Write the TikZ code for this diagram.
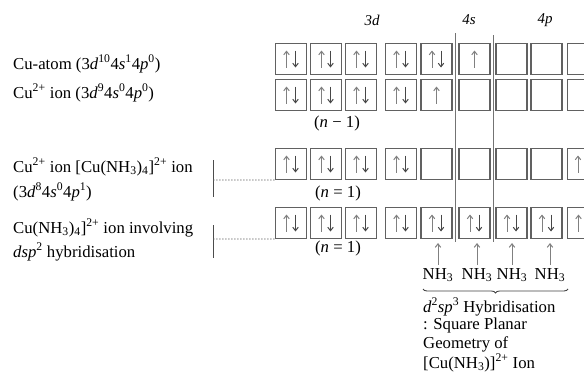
\documentclass[tikz,border=0pt]{standalone}
\usepackage{fontspec}
\setmainfont{Liberation Serif}
\usetikzlibrary{arrows.meta,decorations.pathreplacing}
\newcommand\orbUD[1]{%
  \draw[upa] ([xshift=-4.5bp,yshift=-8.5bp]#1.center) -- ++(0,17);
  \draw[dna] ([xshift=4.5bp,yshift=8.5bp]#1.center) -- ++(0,-17);}
\newcommand\orbU[2][0]{%
  \draw[upa] ([xshift=#1bp,yshift=-8.5bp]#2.center) -- ++(0,17);}
\begin{document}
\begin{tikzpicture}[x=1bp,y=1bp,
  orb/.style={draw=black!62,line width=1.1bp,minimum width=31bp,minimum height=31bp,inner sep=0pt},
  upa/.style={draw=black!50,line width=1bp,-{Straight Barb[length=3.5bp,width=5.5bp]}},
  dna/.style={draw=black!72,line width=1bp,-{Straight Barb[length=3.5bp,width=5.5bp]}},
  lbl/.style={anchor=west,inner sep=0pt,font=\fontsize{16.8}{19}\selectfont},
  txt/.style={inner sep=0pt,font=\fontsize{16.8}{19}\selectfont},
  hdr/.style={inner sep=0pt,font=\fontsize{15}{17}\selectfont\itshape},
  vline/.style={draw=black!55,line width=1bp},
  bar/.style={draw=black!70,line width=0.9bp},
  dots/.style={draw=black!60,line width=0.8bp,dash pattern=on 1.5bp off 1.5bp},
  lig/.style={draw=black!50,line width=1bp,-{Straight Barb[length=3.5bp,width=5.5bp]}}]
\useasboundingbox (0,0) rectangle (584,381);
\clip (0,0) rectangle (584,381);
% orbital boxes
\foreach \i/\x in {1/291,2/326,3/361,4/401,5/436.5,6/474.5,7/511.5,8/546.5,9/583}
  \foreach \r/\y in {1/322,2/286,3/217,4/158}
    \node[orb] (r\r b\i) at (\x,\y) {};
% separators
\draw[vline] (455.5,348) -- (455.5,139);
\draw[vline] (493,346) -- (493,139);
% headers
\node[hdr] (h3d) at (372,361) {3d};
\node[hdr] (h4s) at (469,361) {4s};
\node[hdr] (h4p) at (545,361) {4p};
% electrons
\foreach \i in {1,...,5} {\orbUD{r1b\i}}
\orbU{r1b6}
\foreach \i in {1,...,4} {\orbUD{r2b\i}}
\orbU{r2b5}
\foreach \i in {1,...,4} {\orbUD{r3b\i}}
\orbU[-5]{r3b9}
\foreach \i in {1,...,9} {\orbUD{r4b\i}}
% left labels
\node[lbl] (l1) at (13,317) {Cu-atom (3\textit{d}\textsuperscript{10}4\textit{s}\textsuperscript{1}4\textit{p}\textsuperscript{0})};
\node[lbl] (l2) at (13,288) {Cu\textsuperscript{2+} ion (3\textit{d}\textsuperscript{9}4\textit{s}\textsuperscript{0}4\textit{p}\textsuperscript{0})};
\node[lbl] (l3a) at (13,214) {Cu\textsuperscript{2+} ion [Cu(NH\textsubscript{3})\textsubscript{4}]\textsuperscript{2+} ion};
\node[lbl] (l3b) at (13,189) {(3\textit{d}\textsuperscript{8}4\textit{s}\textsuperscript{0}4\textit{p}\textsuperscript{1})};
\node[lbl] (l4a) at (13,153) {Cu(NH\textsubscript{3})\textsubscript{4}]\textsuperscript{2+} ion involving};
\node[lbl] (l4b) at (13,129) {\textit{dsp}\textsuperscript{2} hybridisation};
% brackets
\coordinate (k3) at (213,201);
\draw[bar] (213,221) -- (213,184);
\draw[dots] (k3) -- (r3b1.south west);
\coordinate (k4) at (213,142);
\draw[bar] (213,156) -- (213,123);
\draw[dots] (k4) -- (r4b1.south west);
% n labels
\node[txt] (n2) at (337,258) {(\textit{n} − 1)};
\node[txt] (n3) at (338,188) {(\textit{n} = 1)};
\node[txt] (n4) at (338,133) {(\textit{n} = 1)};
% ligands
\node[txt] (nh1) at (438,106) {NH\textsubscript{3}};
\node[txt] (nh2) at (477,106) {NH\textsubscript{3}};
\node[txt] (nh3) at (512,106) {NH\textsubscript{3}};
\node[txt] (nh4) at (550,106) {NH\textsubscript{3}};
\foreach \k/\b in {1/5,2/6,3/7,4/8} {
  \coordinate (t\k) at (nh\k.north |- r4b\b.south);
  \draw[lig] ([yshift=3bp]nh\k.north) -- ([yshift=-4bp]t\k);
}
\draw[draw=black!75,line width=0.9bp,decorate,decoration={brace,mirror,amplitude=4bp}] (423,92) -- (568,92);
\node[lbl] (d1) at (423,74) {\textit{d}\textsuperscript{2}\textit{sp}\textsuperscript{3} Hybridisation};
\node[lbl] (d2) at (423,56) {: Square Planar};
\node[lbl] (d3) at (423,37) {Geometry of};
\node[lbl] (d4) at (423,18) {[Cu(NH\textsubscript{3})]\textsuperscript{2+} Ion};
\end{tikzpicture}
\end{document}
